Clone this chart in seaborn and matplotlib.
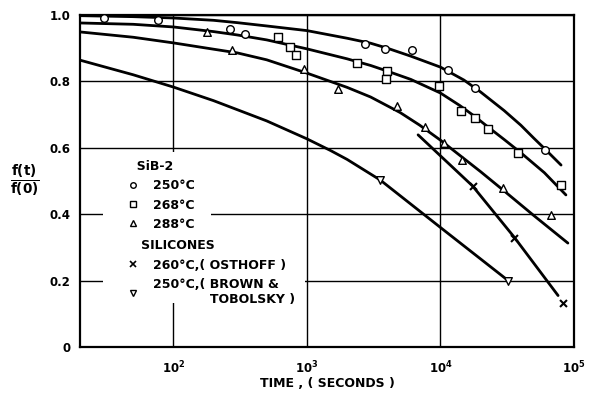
import numpy as np
import pandas as pd
import matplotlib
matplotlib.use("Agg")
import matplotlib.pyplot as plt
import seaborn as sns
from matplotlib.lines import Line2D
from matplotlib.patches import Rectangle
from matplotlib.ticker import FixedLocator, FuncFormatter, NullLocator

# ---- data ----
circ_t = [30, 77, 265, 343, 2735, 3855, 6120, 11350, 18040, 60900]
circ_f = [0.990, 0.985, 0.958, 0.943, 0.913, 0.898, 0.895, 0.834, 0.780, 0.593]

sq_t = [605, 743, 824, 2389, 3990, 3920, 9730, 14200, 18040, 22550, 38400, 80200]
sq_f = [0.934, 0.904, 0.880, 0.855, 0.831, 0.807, 0.786, 0.711, 0.690, 0.657, 0.584, 0.488]

tri_t = [179, 276, 944, 1695, 4730, 7650, 10600, 14400, 29600, 67500]
tri_f = [0.949, 0.895, 0.837, 0.777, 0.726, 0.663, 0.614, 0.563, 0.479, 0.398]

ost_t = [17400, 35800, 83000]
ost_f = [0.485, 0.328, 0.133]

bt_t = [3540, 32300]
bt_f = [0.503, 0.199]

# fitted curves
circ_curve_t = [20, 50, 100, 200, 300, 500, 1000, 2000, 3000, 4000, 6000,
                10000, 15000, 20000, 30000, 40000, 50000, 60000, 80000]
circ_curve_f = [0.998, 0.995, 0.991, 0.984, 0.977, 0.967, 0.953, 0.930, 0.915,
                0.900, 0.876, 0.843, 0.804, 0.768, 0.712, 0.668, 0.629, 0.598,
                0.548]

sq_curve_t = [20, 50, 100, 200, 300, 500, 1000, 2000, 3000, 4000, 6000,
              10000, 14000, 18000, 22500, 30000, 40000, 60000, 87000]
sq_curve_f = [0.976, 0.972, 0.964, 0.950, 0.940, 0.925, 0.898, 0.868, 0.848,
              0.831, 0.806, 0.765, 0.727, 0.695, 0.664, 0.625, 0.585, 0.525,
              0.458]

tri_curve_t = [20, 50, 100, 200, 300, 500, 1000, 2000, 3000, 5000, 7000,
               10000, 20000, 30000, 50000, 90000]
tri_curve_f = [0.949, 0.933, 0.916, 0.897, 0.886, 0.865, 0.825, 0.782, 0.753,
               0.706, 0.668, 0.623, 0.528, 0.470, 0.396, 0.313]

ost_curve_t = [6800, 17400, 35800, 76000]
ost_curve_f = [0.639, 0.485, 0.330, 0.155]

bt_curve_t = [20, 50, 100, 200, 300, 500, 1000, 1500, 2000, 3540, 10000, 31000]
bt_curve_f = [0.864, 0.820, 0.783, 0.742, 0.715, 0.681, 0.627, 0.592, 0.565,
              0.503, 0.360, 0.205]

y_ticks = [0, 0.2, 0.4, 0.6, 0.8, 1.0]
y_labels = ["0", "0.2", "0.4", "0.6", "0.8", "1.0"]
x_ticks = [1e2, 1e3, 1e4, 1e5]

legend_titles = ["  SiB-2", "   SILICONES"]
legend_labels = ["250°C", "268°C", "288°C",
                 "260°C,( OSTHOFF )", "250°C,( BROWN &\n             TOBOLSKY )"]

# ---- plotting ----
sns.set_style("white")
plt.rcParams['font.family'] = ['DejaVu Sans']
plt.rcParams['font.weight'] = 'bold'
plt.rcParams['text.color'] = 'black'
plt.rcParams['axes.labelcolor'] = 'black'
plt.rcParams['xtick.color'] = 'black'
plt.rcParams['ytick.color'] = 'black'

fig = plt.figure(figsize=(5.93, 3.94), dpi=100)
ax = fig.add_axes([80/593, 47/394, 494/593, 332/394])

curves = [(circ_curve_t, circ_curve_f), (sq_curve_t, sq_curve_f),
          (tri_curve_t, tri_curve_f), (ost_curve_t, ost_curve_f),
          (bt_curve_t, bt_curve_f)]
for t, f in curves:
    sns.lineplot(x=t, y=f, ax=ax, color="black", linewidth=2.0, sort=True,
                 estimator=None, zorder=3)

point_sets = [(circ_t, circ_f, "o"), (sq_t, sq_f, "s"), (tri_t, tri_f, "^"),
              (ost_t, ost_f, "x"), (bt_t, bt_f, "v")]
for t, f, m in point_sets:
    if m == "x":
        sns.scatterplot(x=t, y=f, ax=ax, marker="x", color="black", s=25,
                        linewidth=1.5, zorder=4)
    else:
        sns.scatterplot(x=t, y=f, ax=ax, marker=m, facecolor="white",
                        edgecolor="black", s=30, linewidth=1.0, zorder=4)

ax.set_xscale("log")
ax.set_xlim(20, 1e5)
ax.set_ylim(0, 1.0)

ax.xaxis.set_major_locator(FixedLocator(x_ticks))
ax.xaxis.set_minor_locator(NullLocator())
ax.xaxis.set_major_formatter(FuncFormatter(
    lambda v, p: r"$\mathbf{10^{%d}}$" % int(round(np.log10(v)))))
ax.set_yticks(y_ticks)
ax.set_yticklabels(y_labels)

ax.grid(True, which="major", color="black", linewidth=1.0)
ax.set_axisbelow(True)
for s in ax.spines.values():
    s.set_color("black")
    s.set_linewidth(1.6)
ax.tick_params(axis="both", length=0, labelsize=8.5, colors="black")
ax.tick_params(axis="x", pad=9)
ax.tick_params(axis="y", pad=7)
for lab in ax.get_yticklabels():
    lab.set_fontweight("bold")

ax.set_xlabel("TIME , ( SECONDS )", fontsize=9, fontweight="bold", labelpad=1)
ax.set_ylabel(r"$\frac{\mathbf{f(t)}}{\mathbf{f(0)}}$", rotation=0,
              fontsize=14, va="center")
ax.yaxis.set_label_coords(-0.112, 0.5)

# white area behind the legend text (grid interrupted there, as in the original)
for (x0, y0, w, h) in [(0.0466, 0.133, 0.218, 0.454), (0.0466, 0.133, 0.408, 0.201)]:
    ax.add_patch(Rectangle((x0, y0), w, h, transform=ax.transAxes,
                           facecolor="white", edgecolor="none", zorder=1))

# legends
mk = dict(color="black", linestyle="none", markerfacecolor="white",
          markeredgecolor="black", markersize=4, markeredgewidth=1.0)
h1 = [Line2D([], [], marker="o", **mk), Line2D([], [], marker="s", **mk),
      Line2D([], [], marker="^", **mk)]
h2 = [Line2D([], [], marker="x", color="black", linestyle="none",
             markersize=4, markeredgewidth=1.2),
      Line2D([], [], marker="v", **mk)]
lp = dict(frameon=False, handlelength=0.8, handletextpad=1.2,
          borderpad=0, borderaxespad=0, labelspacing=0.5,
          prop={"weight": "bold", "size": 9},
          title_fontproperties={"weight": "bold", "size": 9},
          alignment="left", loc="upper left")
leg1 = ax.legend(h1, legend_labels[:3], title=legend_titles[0],
                 bbox_to_anchor=(0.097, 0.563), **lp)
leg1.get_title().set_color("black")
ax.add_artist(leg1)
leg2 = ax.legend(h2, legend_labels[3:], title=legend_titles[1],
                 bbox_to_anchor=(0.097, 0.324), **lp)
leg2.get_title().set_color("black")

fig.savefig("out.png", dpi=100)
